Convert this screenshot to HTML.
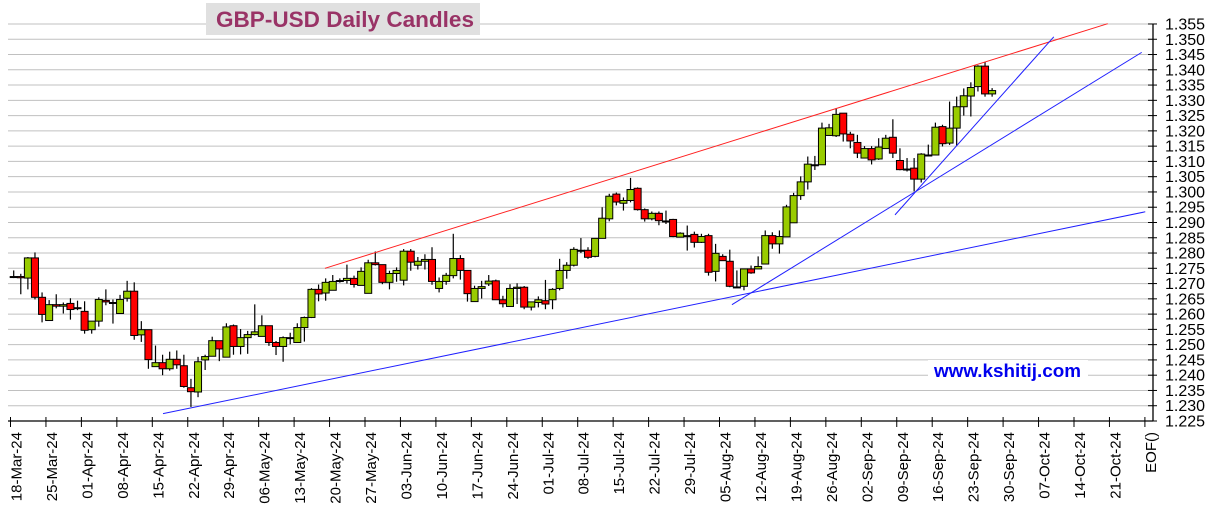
<!DOCTYPE html>
<html><head><meta charset="utf-8"><style>
html,body{margin:0;padding:0;background:#fff;}
svg{display:block;font-family:"Liberation Sans",Arial,sans-serif;}
</style></head><body>
<svg id="chart" width="1217" height="526" viewBox="0 0 1217 526">
<g id="grid"></g>
<g id="candles"></g>
<g id="trends"></g>
<g id="axes"></g>
<g>
<rect x="206" y="3" width="274" height="32" fill="#e0e0e0"/>
<text x="216" y="27" font-size="22" font-weight="bold" fill="#993366" textLength="258" lengthAdjust="spacingAndGlyphs">GBP-USD Daily Candles</text>
</g>
<g>
<rect x="928" y="360" width="160" height="28" fill="#fff"/>
<text x="934" y="377" font-size="18" font-weight="bold" fill="#0000ee" textLength="147" lengthAdjust="spacingAndGlyphs">www.kshitij.com</text>
</g>
</svg>
<script>
const opens=[1.2723,1.2723,1.2718,1.2784,1.2655,1.2579,1.2631,1.2626,1.2635,1.2621,1.2609,1.2549,1.2577,1.2645,1.2638,1.2602,1.2652,1.2675,1.2532,1.2549,1.2428,1.2441,1.2421,1.2452,1.2431,1.2359,1.2345,1.2450,1.2462,1.2513,1.2459,1.2562,1.2494,1.2523,1.2533,1.2527,1.2562,1.2507,1.2494,1.2523,1.2507,1.2556,1.2589,1.2681,1.2669,1.2678,1.2707,1.2710,1.2717,1.2694,1.2668,1.2768,1.2762,1.2704,1.2733,1.2711,1.2806,1.2760,1.2773,1.2779,1.2684,1.2707,1.2726,1.2782,1.2743,1.2641,1.2684,1.2699,1.2709,1.2647,1.2625,1.2684,1.2688,1.2623,1.2638,1.2644,1.2647,1.2684,1.2743,1.2760,1.2806,1.2809,1.2789,1.2848,1.2912,1.2993,1.2963,1.2972,1.3012,1.2942,1.2912,1.2930,1.2905,1.2910,1.2852,1.2857,1.2861,1.2835,1.2857,1.2740,1.2789,1.2773,1.2689,1.2691,1.2748,1.2748,1.2764,1.2857,1.2830,1.2853,1.2899,1.2988,1.3033,1.3089,1.3089,1.3185,1.3184,1.3258,1.3189,1.3162,1.3111,1.3142,1.3108,1.3142,1.3179,1.3103,1.3075,1.3078,1.3042,1.3121,1.3121,1.3214,1.3160,1.3209,1.3279,1.3314,1.3345,1.3412,1.3321];
const highs=[1.2743,1.2732,1.2787,1.2802,1.2671,1.2646,1.2665,1.2638,1.2652,1.2644,1.2642,1.2577,1.2655,1.2681,1.2648,1.2663,1.2709,1.2704,1.2577,1.2549,1.2497,1.2467,1.2477,1.2481,1.2467,1.2388,1.2460,1.2467,1.2526,1.2513,1.2570,1.2566,1.2551,1.2545,1.2632,1.2596,1.2562,1.2512,1.2527,1.2539,1.2570,1.2592,1.2685,1.2697,1.2717,1.2728,1.2717,1.2762,1.2726,1.2753,1.2778,1.2805,1.2762,1.2742,1.2753,1.2813,1.2813,1.2787,1.2796,1.2819,1.2720,1.2735,1.2863,1.2793,1.2743,1.2693,1.2709,1.2728,1.2713,1.2660,1.2698,1.2701,1.2692,1.2640,1.2658,1.2712,1.2685,1.2781,1.2770,1.2819,1.2849,1.2819,1.2848,1.2950,1.2994,1.2998,1.2982,1.3046,1.3015,1.2946,1.2936,1.2936,1.2939,1.2912,1.2868,1.2890,1.2870,1.2863,1.2863,1.2830,1.2796,1.2811,1.2743,1.2748,1.2759,1.2789,1.2874,1.2868,1.2874,1.2958,1.2997,1.3051,1.3116,1.3118,1.3227,1.3223,1.3274,1.3258,1.3197,1.3187,1.3150,1.3150,1.3176,1.3187,1.3238,1.3143,1.3111,1.3111,1.3127,1.3155,1.3227,1.3220,1.3296,1.3312,1.3339,1.3359,1.3415,1.3426,1.3340];
const lows=[1.2718,1.2665,1.2681,1.2648,1.2573,1.2579,1.2619,1.2602,1.2582,1.2613,1.2536,1.2536,1.2559,1.2629,1.2569,1.2602,1.2641,1.2516,1.2509,1.2421,1.2428,1.2400,1.2415,1.2421,1.2359,1.2296,1.2328,1.2417,1.2462,1.2446,1.2459,1.2467,1.2468,1.2470,1.2530,1.2527,1.2496,1.2466,1.2444,1.2501,1.2507,1.2510,1.2587,1.2642,1.2644,1.2678,1.2703,1.2700,1.2687,1.2694,1.2668,1.2759,1.2698,1.2681,1.2706,1.2694,1.2742,1.2746,1.2746,1.2696,1.2671,1.2696,1.2717,1.2713,1.2641,1.2641,1.2651,1.2692,1.2647,1.2622,1.2625,1.2633,1.2616,1.2612,1.2622,1.2616,1.2616,1.2678,1.2716,1.2756,1.2800,1.2781,1.2786,1.2848,1.2904,1.2956,1.2939,1.2966,1.2939,1.2903,1.2907,1.2891,1.2895,1.2852,1.2852,1.2808,1.2818,1.2833,1.2726,1.2707,1.2775,1.2688,1.2686,1.2678,1.2732,1.2748,1.2764,1.2814,1.2798,1.2853,1.2899,1.2974,1.3008,1.3072,1.3089,1.3185,1.3180,1.3165,1.3143,1.3111,1.3111,1.3090,1.3105,1.3142,1.3111,1.3071,1.3067,1.3002,1.3031,1.3117,1.3121,1.3149,1.3154,1.3152,1.3250,1.3247,1.3329,1.3312,1.3312];
const closes=[1.2723,1.2719,1.2784,1.2655,1.2599,1.2631,1.2626,1.2631,1.2615,1.2621,1.2547,1.2577,1.2648,1.2640,1.2638,1.2648,1.2675,1.2530,1.2549,1.2451,1.2441,1.2421,1.2452,1.2434,1.2363,1.2346,1.2444,1.2461,1.2513,1.2486,1.2558,1.2494,1.2523,1.2533,1.2542,1.2562,1.2507,1.2494,1.2523,1.2523,1.2556,1.2589,1.2681,1.2666,1.2704,1.2707,1.2710,1.2717,1.2697,1.2740,1.2768,1.2762,1.2704,1.2733,1.2743,1.2806,1.2770,1.2773,1.2779,1.2707,1.2707,1.2727,1.2782,1.2743,1.2667,1.2684,1.2690,1.2708,1.2647,1.2634,1.2684,1.2688,1.2623,1.2640,1.2647,1.2633,1.2681,1.2743,1.2760,1.2812,1.2809,1.2786,1.2848,1.2914,1.2986,1.2967,1.2972,1.3008,1.2942,1.2912,1.2930,1.2906,1.2905,1.2854,1.2865,1.2857,1.2835,1.2854,1.2737,1.2799,1.2775,1.2691,1.2689,1.2748,1.2735,1.2756,1.2857,1.2830,1.2854,1.2951,1.2988,1.3033,1.3091,1.3089,1.3209,1.3210,1.3254,1.3190,1.3167,1.3127,1.3142,1.3105,1.3147,1.3176,1.3127,1.3073,1.3075,1.3042,1.3124,1.3121,1.3212,1.3158,1.3209,1.3279,1.3315,1.3342,1.3412,1.3321,1.3332];
const yTicks=[1.355,1.350,1.345,1.340,1.335,1.330,1.325,1.320,1.315,1.310,1.305,1.300,1.295,1.290,1.285,1.280,1.275,1.270,1.265,1.260,1.255,1.250,1.245,1.240,1.235,1.230,1.225];
const weekLabels=["18-Mar-24","25-Mar-24","01-Apr-24","08-Apr-24","15-Apr-24","22-Apr-24","29-Apr-24","06-May-24","13-May-24","20-May-24","27-May-24","03-Jun-24","10-Jun-24","17-Jun-24","24-Jun-24","01-Jul-24","08-Jul-24","15-Jul-24","22-Jul-24","29-Jul-24","05-Aug-24","12-Aug-24","19-Aug-24","26-Aug-24","02-Sep-24","09-Sep-24","16-Sep-24","23-Sep-24","30-Sep-24","07-Oct-24","14-Oct-24","21-Oct-24","EOF()"];
// trend lines: [startIndex, startValue, endIndex, endValue]
const redTrend=[43.9,1.2750,154.3,1.3551];
const blueLong=[21.06,1.2274,159.6,1.2935];
const blueMid=[101.3,1.2631,159.1,1.3457];
const blueSteep=[124.3,1.2925,146.7,1.3508];

const NS="http://www.w3.org/2000/svg";
const X0=13.7, DX=7.09, Y0=421, K=3054, VMIN=1.225;
function xs(i){return X0+i*DX;}
function ys(v){return Y0-(v-VMIN)*K;}
function mk(tag,attrs,parent){const e=document.createElementNS(NS,tag);for(const k in attrs)e.setAttribute(k,attrs[k]);parent.appendChild(e);return e;}
const grid=document.getElementById('grid'),cg=document.getElementById('candles'),tg=document.getElementById('trends'),ag=document.getElementById('axes');
const AX=1153;
yTicks.forEach(v=>{
  const y=ys(v);
  const l=mk('line',{x1:8,x2:AX,y1:y,y2:y,stroke:'#c0c0c0','stroke-width':1},grid);
  
  
  const t=mk('line',{x1:AX-5,x2:AX+4,y1:y,y2:y,stroke:'#000','stroke-width':1},ag);
  
  
  const tx=mk('text',{x:1165,y:y+5.5,'font-size':16,fill:'#000'},ag);
  tx.textContent=v.toFixed(3);
  
  
});
for(let i=0;i<opens.length;i++){
  const x=xs(i),o=opens[i],c=closes[i];
  const w=mk('line',{x1:x,x2:x,y1:ys(highs[i]),y2:ys(lows[i]),stroke:'#000','stroke-width':1.2},cg);
  
  
  const top=ys(Math.max(o,c)),bot=ys(Math.min(o,c));
  const r=mk('rect',{x:x-3.5,y:top,width:7,height:Math.max(bot-top,1),fill:c>=o?'#99cc00':'#ff0000',stroke:'#000','stroke-width':1},cg);
  
  
}
[[redTrend,'#ff2020','red-trend-line'],[blueLong,'#2020ff','blue-long-trend-line'],[blueMid,'#2020ff','blue-mid-trend-line'],[blueSteep,'#2020ff','blue-steep-trend-line']].forEach(([d,col,nm])=>{
  const l=mk('line',{x1:xs(d[0]),y1:ys(d[1]),x2:xs(d[2]),y2:ys(d[3]),stroke:col,'stroke-width':1},tg);
  
  
});
const ya=mk('line',{x1:AX,x2:AX,y1:ys(1.355),y2:Y0,stroke:'#000','stroke-width':1.3},ag);


const xa=mk('line',{x1:8,x2:AX,y1:Y0,y2:Y0,stroke:'#000','stroke-width':1.3},ag);


weekLabels.forEach((lab,k)=>{
  const x=xs(k*5)-3.2;
  const t=mk('line',{x1:x,x2:x,y1:Y0-4,y2:Y0+6,stroke:'#000','stroke-width':1},ag);
  
  
  const tx=mk('text',{x:0,y:0,'font-size':15,fill:'#000','text-anchor':'end',transform:`translate(${x+11},432) rotate(-90)`},ag);
  tx.textContent=lab;
  
  
});
</script>
</body></html>
